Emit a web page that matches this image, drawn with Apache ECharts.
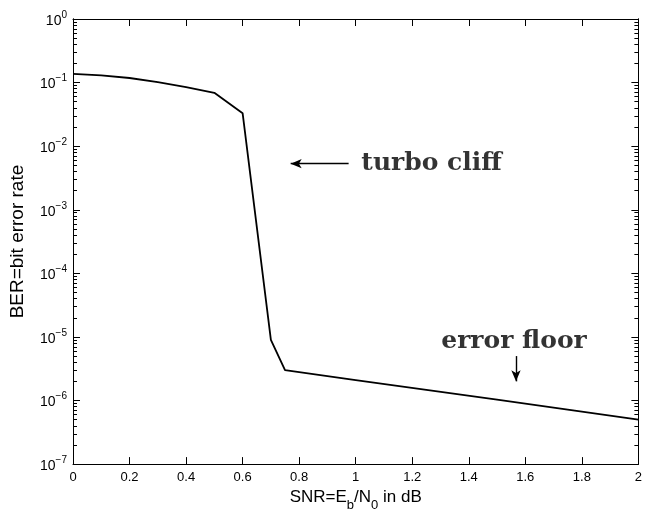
<!DOCTYPE html>
<html>
<head>
<meta charset="utf-8">
<script src="https://cdn.jsdelivr.net/npm/echarts@6/dist/echarts.min.js"></script>
<style>
html,body{margin:0;padding:0;background:#fff;}
#main{width:645px;height:517px;}
</style>
</head>
<body>
<div id="main"></div>
<script>
// ---- data ----
var snr = [0, 0.1, 0.2, 0.3, 0.4, 0.5, 0.6, 0.7, 0.75, 1.0, 1.25, 1.5, 1.75, 2.0];
var ber = [0.137, 0.13, 0.118, 0.102, 0.085, 0.069, 0.033, 9.0e-6, 3.0e-6, 2.1e-6, 1.47e-6, 1.03e-6, 7.2e-7, 5.0e-7];
var xTicks = [0, 0.2, 0.4, 0.6, 0.8, 1, 1.2, 1.4, 1.6, 1.8, 2];
var yMajor = [1e-7, 1e-6, 1e-5, 1e-4, 1e-3, 1e-2, 1e-1, 1];
var annoText = ['turbo cliff', 'error floor'];
var annoPos = [[1.02, 5.3e-3], [1.56, 8.6e-6]];
var arrowCliff = [[0.975, 5.3e-3], [0.77, 5.3e-3]];
var arrowFloor = [[1.567, 5.0e-6], [1.567, 2.0e-6]];

var yMinor = [];
for (var e = -7; e < 0; e++) {
  for (var m = 2; m <= 9; m++) yMinor.push(m * Math.pow(10, e));
}
var lineData = snr.map(function (x, i) { return [x, ber[i]]; });

var chart = echarts.init(document.getElementById('main'));
var sans = 'Liberation Sans';
function yLabel(v) {
  var ex = Math.round(Math.log10(v));
  return '{b|10}{s|' + (ex < 0 ? '\u2212' + (-ex) : ex) + '}';
}
function baseY(pos, labels, ticks, len) {
  return {
    type: 'log', logBase: 10, min: 1e-7, max: 1, position: pos,
    splitLine: {show: false},
    axisLine: {show: true, lineStyle: {color: '#000', width: 1}},
    axisTick: {show: true, inside: true, length: len, customValues: ticks, lineStyle: {color: '#000', width: 1}},
    axisLabel: labels ? {
      show: true, customValues: yMajor, formatter: yLabel, margin: 6, color: '#000',
      rich: {
        b: {fontSize: 14, fontFamily: sans, color: '#000', verticalAlign: 'bottom'},
        s: {fontSize: 10, fontFamily: sans, color: '#000', verticalAlign: 'top', padding: [0, 0, 8, 0]}
      }
    } : {show: false}
  };
}
var yAxes = [baseY('left', true, yMajor, 7), baseY('left', false, yMinor, 4),
             baseY('right', false, yMajor, 7), baseY('right', false, yMinor, 4)];
yAxes[0].name = 'BER=bit error rate';
yAxes[0].nameLocation = 'middle';
yAxes[0].nameGap = 46;
yAxes[0].nameTextStyle = {fontSize: 19, fontFamily: sans, color: '#000'};

function baseX(pos, labels) {
  return {
    type: 'value', min: 0, max: 2, interval: 0.2, position: pos,
    splitLine: {show: false},
    axisLine: {show: true, lineStyle: {color: '#000', width: 1}},
    axisTick: {show: true, inside: true, length: 7, customValues: xTicks, lineStyle: {color: '#000'}},
    axisLabel: labels ? {show: true, customValues: xTicks, fontSize: 13, fontFamily: sans, color: '#000', margin: 7,
      formatter: function (v) { return String(Math.round(v * 10) / 10); }} : {show: false}
  };
}
var xAxes = [baseX('bottom', true), baseX('top', false)];
xAxes[0].name = '{n|SNR=E}{sub|b}{n|/N}{sub|0}{n| in dB}';
xAxes[0].nameLocation = 'middle';
xAxes[0].nameGap = 20;
xAxes[0].nameTextStyle = {
  rich: {
    n: {fontSize: 17, fontFamily: sans, color: '#000', verticalAlign: 'top'},
    sub: {fontSize: 13, fontFamily: sans, color: '#000', verticalAlign: 'bottom', padding: [10, 0, 0, 0]}
  }
};

var serif = 'DejaVu Serif';
chart.setOption({
  animation: false,
  backgroundColor: '#fff',
  grid: {left: 70, right: 2, top: 19, bottom: 45, containLabel: false},
  xAxis: xAxes,
  yAxis: yAxes,
  series: [
    {
      type: 'line', xAxisIndex: 0, yAxisIndex: 0, data: lineData, symbol: 'none',
      lineStyle: {color: '#000', width: 1.8}, clip: false,
      markLine: {
        silent: true, symbol: ['none', 'arrow'], symbolSize: [7, 11],
        lineStyle: {color: '#000', width: 1.4, type: 'solid'},
        label: {show: false},
        data: [
          [{coord: arrowCliff[0]}, {coord: arrowCliff[1]}],
          [{coord: arrowFloor[0]}, {coord: arrowFloor[1]}]
        ]
      }
    },
    {
      type: 'scatter', xAxisIndex: 0, yAxisIndex: 0, symbolSize: 0, silent: true,
      data: [
        {value: annoPos[0], label: {position: 'right', distance: 0}},
        {value: annoPos[1], label: {position: 'inside'}}
      ],
      label: {
        show: true, color: '#000', fontFamily: serif, fontSize: 25, fontWeight: 'bold',
        formatter: function (p) { return annoText[p.dataIndex]; }
      }
    }
  ]
});
</script>
</body>
</html>
